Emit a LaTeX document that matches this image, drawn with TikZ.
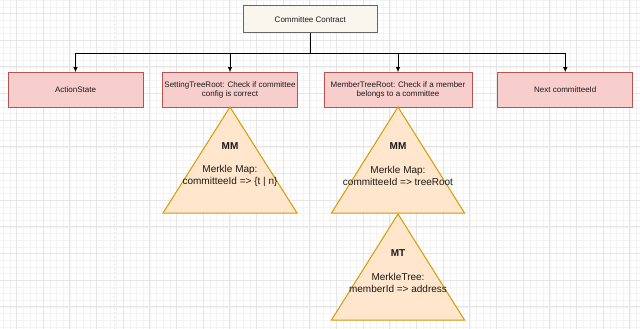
\documentclass[tikz,border=0pt]{standalone}
\usepackage{fontspec}
\setmainfont{Liberation Sans}
\usetikzlibrary{arrows.meta}
\definecolor{gridminor}{HTML}{F3F3F3}
\definecolor{gridmajor}{HTML}{E6E6E6}
\definecolor{topfill}{HTML}{F9F7ED}
\definecolor{topline}{HTML}{666666}
\definecolor{pinkfill}{HTML}{F8CECC}
\definecolor{pinkline}{HTML}{B85450}
\definecolor{trifill}{HTML}{FFE6CC}
\definecolor{triline}{HTML}{D79B00}
\definecolor{txt}{HTML}{1A1A1A}
\tikzset{
  topbox/.style={draw=topline, fill=topfill, line width=1pt, minimum width=134pt, minimum height=27pt, inner sep=0pt, font=\fontsize{8}{9}\selectfont, text=txt},
  pinkbox/.style={draw=pinkline, fill=pinkfill, line width=1pt, minimum width=135pt, minimum height=34.5pt, inner sep=0pt, align=center, font=\fontsize{8}{9.2}\selectfont, text=txt},
  widebox/.style={pinkbox, minimum width=148pt},
  tri/.style={draw=triline, fill=trifill, line width=1pt, line join=miter},
  tlabel/.style={font=\fontsize{10}{12}\selectfont\bfseries, text=txt, inner sep=0pt},
  ttext/.style={font=\fontsize{10}{12.3}\selectfont, text=txt, align=center, inner sep=0pt},
  conn/.style={draw=black, line width=1pt, -{Latex[length=5pt,width=4.5pt]}}
}
\begin{document}
\begin{tikzpicture}[x=1pt,y=-1pt]
\useasboundingbox (0,0) rectangle (640,329);
\fill[white] (0,0) rectangle (640,329);
% minor grid
\foreach \i in {-3,...,95} {
  \draw[gridminor, line width=0.6pt] (16.5+\i*6.6667,0) -- (16.5+\i*6.6667,329);
}
\foreach \j in {-3,...,50} {
  \draw[gridminor, line width=0.6pt] (0,13.5+\j*6.6667) -- (640,13.5+\j*6.6667);
}
% major grid
\foreach \i in {0,...,24} {
  \draw[gridmajor, line width=0.8pt] (16.5+\i*26.6667,0) -- (16.5+\i*26.6667,329);
}
\foreach \j in {0,...,12} {
  \draw[gridmajor, line width=0.8pt] (0,13.5+\j*26.6667) -- (640,13.5+\j*26.6667);
}
% page break
\draw[gridmajor, line width=1pt, dash pattern=on 2pt off 2pt] (114,0) -- (114,329);

% nodes
\node[topbox] (top) at (310.3,19.5) {Committee Contract};
\node[pinkbox] (as) at (75.5,90) {ActionState};
\node[pinkbox] (st) at (230,90) {SettingTreeRoot: Check if committee\\config is correct};
\node[widebox] (mt) at (398,90) {MemberTreeRoot: Check if a member\\belongs to a committee};
\node[pinkbox] (nc) at (565.3,90) {Next committeeId};

% connectors
\draw[conn] (top.south) -- ++(0,20) -| (as.north);
\draw[conn] (top.south) -- ++(0,20) -| (st.north);
\draw[conn] (top.south) -- ++(0,20) -| (mt.north);
\draw[conn] (top.south) -- ++(0,20) -| (nc.north);

% triangles
\draw[tri] (230,107) -- (297,213) -- (163,213) -- cycle;
\draw[tri] (398,107) -- (464.5,213) -- (331.5,213) -- cycle;
\draw[tri] (398,214) -- (464.5,320) -- (331.5,320) -- cycle;

\node[tlabel] (mm1) at (230,146) {MM};
\node[ttext] (mm1t) at (230,176) {Merkle Map:\\committeeId => \{t | n\}};
\node[tlabel] (mm2) at (398,146) {MM};
\node[ttext] (mm2t) at (398,176) {Merkle Map:\\committeeId => treeRoot};
\node[tlabel] (mt3) at (398,253) {MT};
\node[ttext] (mt3t) at (398,283) {MerkleTree:\\memberId => address};
\end{tikzpicture}
\end{document}
